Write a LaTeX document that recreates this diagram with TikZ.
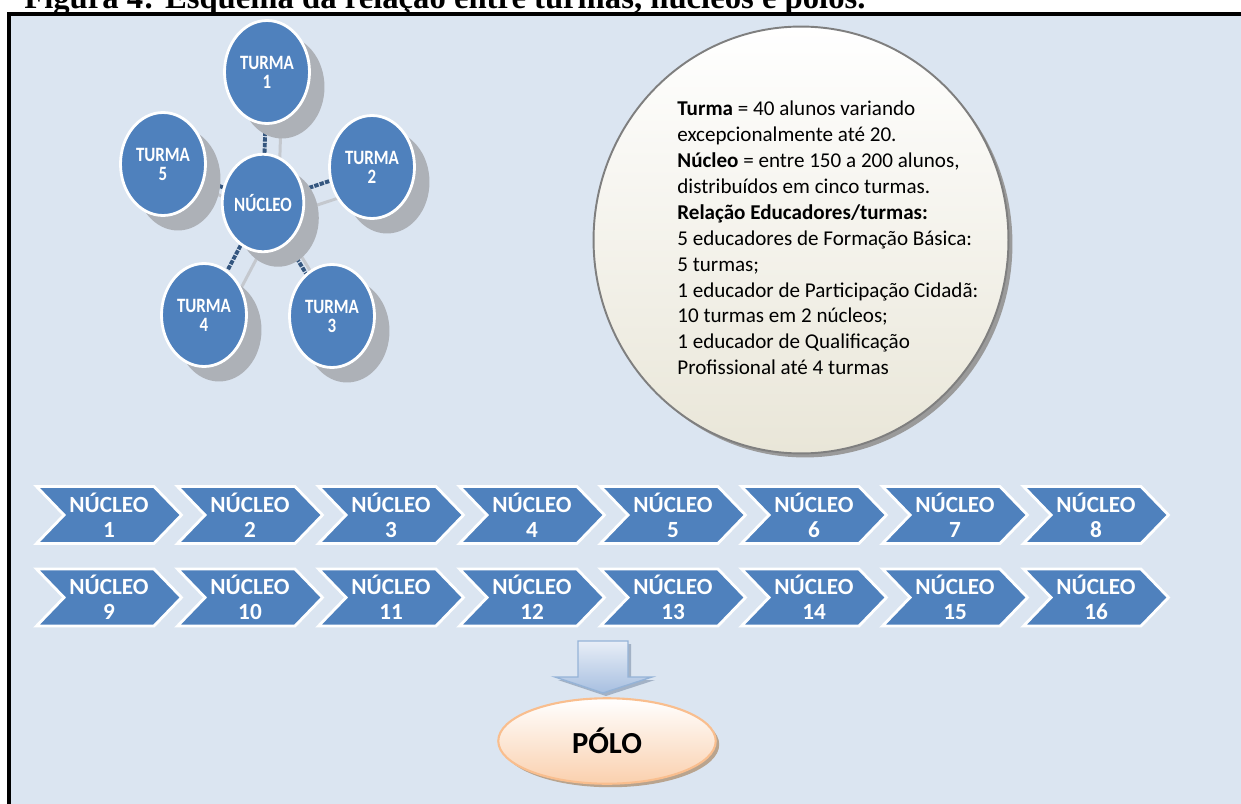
\documentclass[tikz,border=0pt]{standalone}
\usepackage{fontspec}
\usepackage{graphicx}
\setmainfont{Carlito}
\newfontfamily\titlefont{Liberation Serif}
\usetikzlibrary{shapes.geometric,shapes.symbols,shadows,backgrounds}
\definecolor{bgblue}{HTML}{DBE5F1}
\definecolor{nodeblue}{HTML}{4F81BD}
\definecolor{linkblue}{HTML}{34567F}
\definecolor{shadowgray}{HTML}{ADB1B7}
\definecolor{slinkgray}{HTML}{C4C8CE}
\definecolor{ellborder}{HTML}{7F7F7F}
\definecolor{ellbottom}{HTML}{E9E6D8}
\definecolor{ellshadow}{HTML}{9A9A9A}
\definecolor{pborder}{HTML}{F9BE8E}
\definecolor{pbottom}{HTML}{FAD0AE}
\definecolor{pshadow}{HTML}{B9A48E}
\definecolor{arrborder}{HTML}{95B3D7}
\definecolor{arrtop}{HTML}{E8EEF7}
\definecolor{arrbottom}{HTML}{A7BFE0}
\definecolor{arrshadow}{HTML}{A3B2C6}
\newcommand{\sqz}[1]{\scalebox{0.83}[1]{#1}}
\begin{document}
\begin{tikzpicture}[x=0.02cm,y=-0.02cm,
  turma/.style={ellipse, fill=nodeblue, draw=white, line width=1.6pt,
    minimum width=1.7cm, minimum height=2.06cm, inner sep=0pt,
    text=white, align=center,
    font=\bfseries\fontsize{11.6}{10.8}\selectfont,
    drop shadow={shadow xshift=0.3cm, shadow yshift=-0.3cm, fill=shadowgray, opacity=1}},
  nucleo/.style={turma, minimum width=1.55cm, minimum height=1.95cm},
  link/.style={draw=linkblue, line width=2.2pt, dash pattern=on 2.5pt off 0.7pt},
  slink/.style={draw=slinkgray, line width=1.7pt},
  chev/.style={signal, signal from=west, signal to=east, signal pointer angle=92,
    fill=nodeblue, draw=white, line width=1.6pt,
    minimum width=2.9cm, minimum height=1.14cm, inner sep=0pt,
    text=white, align=center,
    font=\bfseries\fontsize{13.2}{14.2}\selectfont}
]
\useasboundingbox (0,0) rectangle (1241,804);
\begin{scope}[on background layer]
  \fill[bgblue] (9,14) rectangle (1241,804);
\end{scope}
\draw[line width=2.3pt] (9,804) -- (9,14) -- (1241,14);

% title (top clipped by the page, as in the reference)
\node[anchor=base west, inner sep=0pt, font=\titlefont\bfseries\fontsize{18.6}{20}\selectfont] (title) at (24,8.5)
  {Figura 4: Esquema da relação entre turmas, núcleos e polos.};

% cluster
\node[nucleo] (n) at (263,203) {\sqz{NÚCLEO}};
\node[turma] (t1) at (267,72) {\sqz{TURMA}\\\sqz{1}};
\node[turma] (t2) at (372,167) {\sqz{TURMA}\\\sqz{2}};
\node[turma] (t3) at (332,316) {\sqz{TURMA}\\\sqz{3}};
\node[turma] (t4) at (204,315) {\sqz{TURMA}\\\sqz{4}};
\node[turma] (t5) at (163,164) {\sqz{TURMA}\\\sqz{5}};
\begin{scope}[on background layer]
  \foreach \t in {t1,t2,t3,t4,t5}{
    \draw[slink] ([shift={(15,15)}]n.center) -- ([shift={(15,15)}]\t.center);
  }
  \foreach \t in {t1,t2,t3,t4,t5}{
    \draw[link] (n) -- (\t);
  }
\end{scope}

% info ellipse
\node[ellipse, minimum width=8.3cm, minimum height=8.54cm, draw=ellborder, line width=1.1pt,
  top color=white, bottom color=ellbottom,
  drop shadow={shadow xshift=0.08cm, shadow yshift=-0.08cm, fill=ellshadow, opacity=1}] (box) at (801,240) {};
\node[anchor=west, align=left, inner sep=0pt, font=\fontsize{12}{14.74}\selectfont] (boxtext) at (677,238)
{\textbf{Turma} = 40 alunos variando\\
excepcionalmente até 20.\\
\textbf{Núcleo} = entre 150 a 200 alunos,\\
distribuídos em cinco turmas.\\
\textbf{Relação Educadores/turmas:}\\
5 educadores de Formação Básica:\\
5 turmas;\\
1 educador de Participação Cidadã:\\
10 turmas em 2 núcleos;\\
1 educador de Qualificação\\
Profissional até 4 turmas};

% chevrons
\foreach \i in {1,...,8}{
  \pgfmathsetmacro{\cx}{109+141*(\i-1)}
  \pgfmathtruncatemacro{\j}{\i+8}
  \node[chev] (c\i) at (\cx,515) {NÚCLEO\\\i};
  \node[chev] (c\j) at (\cx,597.5) {NÚCLEO\\\j};
}

% arrow to polo
\fill[arrshadow] (581,644) -- (631,644) -- (631,680) -- (655,680) -- (606,696) -- (558,680) -- (581,680) -- cycle;
\path[draw=arrborder, line width=0.8pt, top color=arrtop, bottom color=arrbottom]
  (578,641) -- (628,641) -- (628,677) -- (652,677) -- (603,693) -- (555,677) -- (578,677) -- cycle;

% polo
\node[ellipse, minimum width=4.35cm, minimum height=1.71cm, draw=pborder, line width=1.2pt,
  top color=white, bottom color=pbottom,
  drop shadow={shadow xshift=0.07cm, shadow yshift=-0.07cm, fill=pshadow, opacity=1},
  font=\bfseries\fontsize{17.4}{20}\selectfont] (polo) at (607,741) {PÓLO};
\end{tikzpicture}
\end{document}
